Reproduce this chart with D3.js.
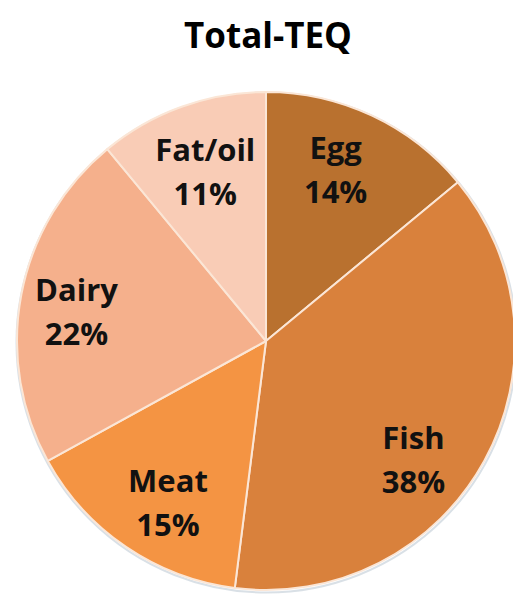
<!DOCTYPE html>
<html><head><meta charset="utf-8">
<script src="https://cdn.jsdelivr.net/npm/d3@7"></script>
<style>html,body{margin:0;padding:0;background:#fff;}svg{display:block;}</style>
</head><body>
<svg id="chart" width="513" height="595"></svg>
<script>
const title = "Total-TEQ";
const categories = ["Egg", "Fish", "Meat", "Dairy", "Fat/oil"];
const values = [14, 38, 15, 22, 11];
const colors = ["#b9712f", "#d9813c", "#f49443", "#f5b08c", "#f9ccb6"];

const svg = d3.select("#chart");
const W = 513, H = 595;
const cx = 266, cy = 341, R = 249;
const font = "'Open Sans', 'Liberation Sans', sans-serif";

svg.append("text").attr("x", 268).attr("y", 48).attr("text-anchor", "middle")
  .style("font-family", font).style("font-weight", 700).style("font-size", "35px")
  .attr("fill", "#000").text(title);

const pie = d3.pie().sort(null).value(d => d)(values);
const arc = d3.arc().innerRadius(0).outerRadius(R);
const g = svg.append("g").attr("transform", `translate(${cx},${cy})`);

// faint outer shadow
g.append("circle").attr("r", R + 1).attr("cx", 0.5).attr("cy", 1.5)
  .attr("fill", "none").attr("stroke", "#c9d3dc").attr("stroke-width", 2).attr("opacity", 0.7);

g.selectAll("path").data(pie).join("path")
  .attr("d", arc)
  .attr("fill", (d, i) => colors[i])
  .attr("stroke", "#fbe6d6").attr("stroke-width", 2).attr("stroke-linejoin", "round");

// label placement: angle nudges (degrees) and radius factor
const angleNudge = [-3, 10, -3, -2, 0];
const labelR = [0.74, 0.76, 0.76, 0.77, 0.72];
g.selectAll("text.lbl").data(pie).join("text")
  .attr("class", "lbl")
  .attr("text-anchor", "middle")
  .style("font-family", font).style("font-weight", 700).style("font-size", "31px")
  .attr("fill", "#111")
  .each(function(d, i) {
    const a = (d.startAngle + d.endAngle) / 2 + angleNudge[i] * Math.PI / 180;
    const r = R * labelR[i];
    const x = r * Math.sin(a), y = -r * Math.cos(a);
    const t = d3.select(this);
    t.append("tspan").attr("x", x).attr("y", y - 11).text(categories[i]);
    t.append("tspan").attr("x", x).attr("y", y + 33).text(values[i] + "%");
  });
</script>
</body></html>
